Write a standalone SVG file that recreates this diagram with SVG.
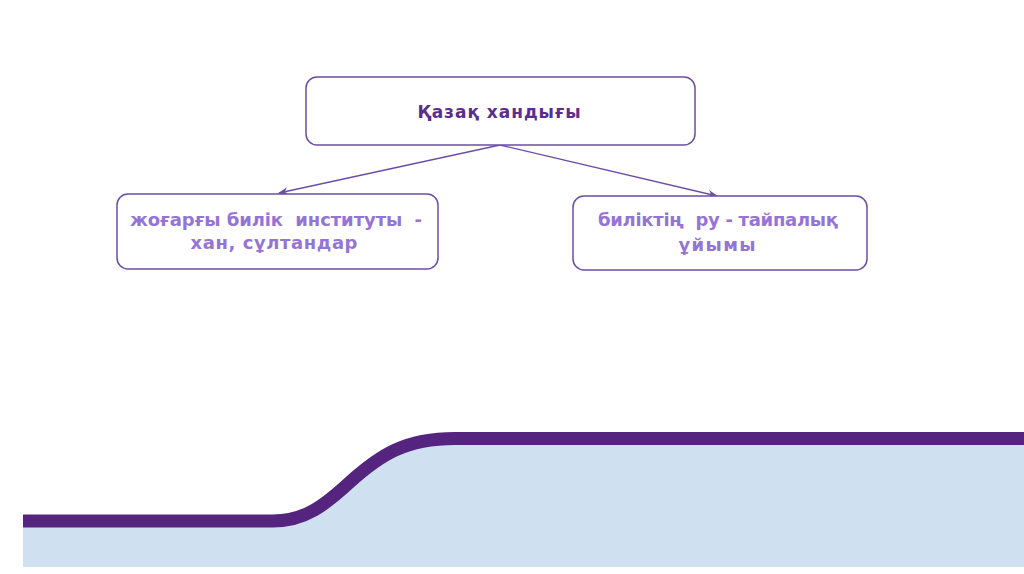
<svg xmlns="http://www.w3.org/2000/svg" width="1024" height="574" viewBox="0 0 1024 574">
<style>
.box{fill:#fff;stroke:#6a4ea6;stroke-width:1.5}
.t{font-family:"DejaVu Sans","Verdana",sans-serif;font-weight:bold;text-anchor:middle;white-space:pre}
.main{fill:#5a2d8e;font-size:17px}
.sub{fill:#9474d6;font-size:18px}
.conn{stroke:#6a4ea6;stroke-width:1.3;fill:none;marker-end:url(#ah)}
</style>
<defs>
<marker id="ah" markerWidth="10" markerHeight="8" refX="9" refY="4" orient="auto" markerUnits="userSpaceOnUse">
<path d="M0,0 L10,4 L0,8 L3,4 Z" fill="#6a4ea6"/>
</marker>
</defs>
<rect width="1024" height="574" fill="#fff"/>
<g id="band">
<path d="M23,521 H273 C305,521 325,505 350,482 C380,455 405,438.5 455,438.5 H1024 V567 H23 Z" fill="#cfe0f1"/>
<path d="M23,521 H273 C305,521 325,505 350,482 C380,455 405,438.5 455,438.5 H1024" fill="none" stroke="#55247f" stroke-width="13"/>
</g>
<g id="connectors">
<line class="conn" x1="500" y1="145" x2="279" y2="193"/>
<line class="conn" x1="500" y1="145" x2="717" y2="196"/>
</g>
<g id="node-top">
<rect class="box" x="306" y="77" width="389" height="68" rx="11"/>
<text class="t main" x="499" y="118" textLength="163" lengthAdjust="spacing">Қазақ хандығы</text>
</g>
<g id="node-left">
<rect class="box" x="117" y="194" width="321" height="75" rx="11"/>
<text class="t sub" x="276" y="226" textLength="292" lengthAdjust="spacing">жоғарғы билік  институты  -</text>
<text class="t sub" x="274" y="249" textLength="167" lengthAdjust="spacing">хан, сұлтандар</text>
</g>
<g id="node-right">
<rect class="box" x="573" y="196" width="294" height="74" rx="11"/>
<text class="t sub" x="718" y="226" textLength="240" lengthAdjust="spacing">биліктің  ру - тайпалық</text>
<text class="t sub" x="717" y="251" textLength="77" lengthAdjust="spacing">ұйымы</text>
</g>
</svg>
